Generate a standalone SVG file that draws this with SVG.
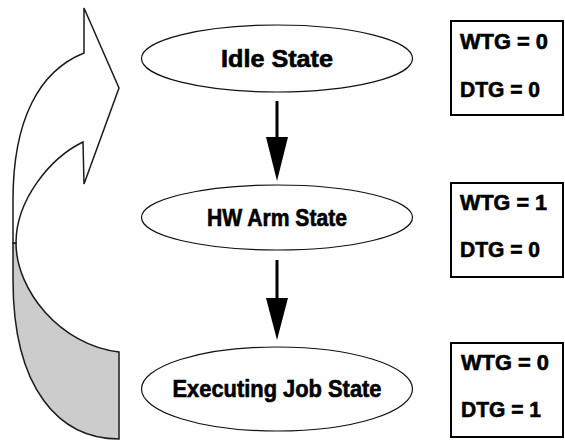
<svg xmlns="http://www.w3.org/2000/svg" width="565" height="442" viewBox="0 0 565 442">
<style>
  .bg { fill: #ffffff; }
  .curve { stroke: #1a1a1a; stroke-width: 1.5; stroke-linejoin: miter; }
  .state ellipse { fill: #ffffff; stroke: #111111; stroke-width: 1.2; }
  .lbl { font-family: "Liberation Sans", Arial, sans-serif; font-weight: bold; fill: #000000; stroke: #000000; stroke-width: 0.6; }
  .state text { font-size: 23px; text-anchor: middle; }
  .box rect { fill: #ffffff; stroke: #000000; stroke-width: 2; }
  .box text { font-size: 21.5px; }
  .conn line { stroke: #000000; stroke-width: 3; }
  .conn polygon { fill: #000000; }
</style>
<rect class="bg" x="0" y="0" width="565" height="442"/>

<g id="cycle-arrow">
  <path class="curve" fill="#cccccc" d="M16,243 C16,290 60,345 119,352 L119,439 C60,439 13,390 13,280 L13,243 Z"/>
  <path class="curve" fill="#ffffff" d="M119,88 L84,8 L84,53 C39,71 13,120 13,200 L13,243 L16,243 C16,200 50,158 83,142 L84,184 Z"/>
</g>

<g id="connectors" class="conn">
  <line x1="277" y1="101" x2="277" y2="140"/>
  <polygon points="266,137 288,137 277,181"/>
  <line x1="277" y1="260" x2="277" y2="300"/>
  <polygon points="266,298 288,298 277,340"/>
</g>

<g id="idle" class="state">
  <ellipse cx="277" cy="58.5" rx="135.5" ry="33.5"/>
  <text class="lbl" x="277" y="66.5" textLength="112" lengthAdjust="spacingAndGlyphs">Idle State</text>
</g>
<g id="hwarm" class="state">
  <ellipse cx="277" cy="217.5" rx="135.5" ry="32.5"/>
  <text class="lbl" x="277" y="225.5" textLength="140" lengthAdjust="spacingAndGlyphs">HW Arm State</text>
</g>
<g id="executing" class="state">
  <ellipse cx="277" cy="389" rx="135.5" ry="42"/>
  <text class="lbl" x="277" y="397" textLength="209" lengthAdjust="spacingAndGlyphs">Executing Job State</text>
</g>

<g id="box-idle" class="box">
  <rect x="451" y="21" width="112" height="94"/>
  <text class="lbl" x="460" y="49" textLength="88" lengthAdjust="spacingAndGlyphs">WTG = 0</text>
  <text class="lbl" x="460" y="97" textLength="80" lengthAdjust="spacingAndGlyphs">DTG = 0</text>
</g>
<g id="box-hwarm" class="box">
  <rect x="451" y="183" width="112" height="94"/>
  <text class="lbl" x="460" y="209.5" textLength="87" lengthAdjust="spacingAndGlyphs">WTG = 1</text>
  <text class="lbl" x="460" y="257" textLength="80" lengthAdjust="spacingAndGlyphs">DTG = 0</text>
</g>
<g id="box-executing" class="box">
  <rect x="451" y="343" width="112" height="94"/>
  <text class="lbl" x="461" y="370" textLength="88" lengthAdjust="spacingAndGlyphs">WTG = 0</text>
  <text class="lbl" x="461" y="417" textLength="80" lengthAdjust="spacingAndGlyphs">DTG = 1</text>
</g>
</svg>
